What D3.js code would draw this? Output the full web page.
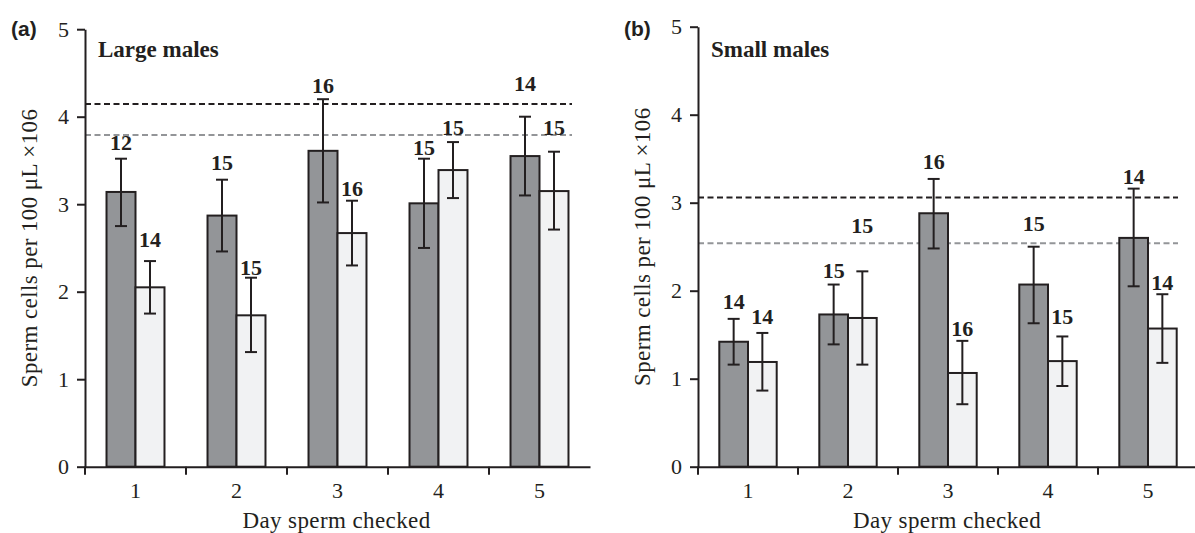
<!DOCTYPE html>
<html>
<head>
<meta charset="utf-8">
<script src="https://cdn.jsdelivr.net/npm/d3@7"></script>
<style>
  body { margin: 0; background: #fff; }
  svg { display: block; }
</style>
</head>
<body>
<svg id="chart"></svg>
<script>
const days = ["1", "2", "3", "4", "5"];

// (a) large males
const largeDark = [3.14, 2.87, 3.61, 3.01, 3.55];
const largeDarkErr = [[2.75, 3.52], [2.46, 3.28], [3.02, 4.20], [2.50, 3.52], [3.10, 4.00]];
const largeDarkN = [12, 15, 16, 15, 14];
const largeDarkNAt = [3.62, 3.39, 4.27, 3.56, 4.29];
const largeLight = [2.05, 1.73, 2.67, 3.39, 3.15];
const largeLightErr = [[1.75, 2.35], [1.31, 2.16], [2.30, 3.04], [3.07, 3.71], [2.71, 3.60]];
const largeLightN = [14, 15, 16, 15, 15];
const largeLightNAt = [2.51, 2.19, 3.09, 3.79, 3.79];
const largeRefLines = [4.145, 3.79];

// (b) small males
const smallDark = [1.42, 1.73, 2.88, 2.07, 2.60];
const smallDarkErr = [[1.16, 1.68], [1.39, 2.07], [2.48, 3.27], [1.63, 2.50], [2.05, 3.16]];
const smallDarkN = [14, 15, 16, 15, 14];
const smallDarkNAt = [1.79, 2.15, 3.38, 2.68, 3.21];
const smallLight = [1.19, 1.69, 1.065, 1.20, 1.57];
const smallLightErr = [[0.865, 1.52], [1.16, 2.22], [0.71, 1.43], [0.917, 1.48], [1.18, 1.96]];
const smallLightN = [14, 15, 16, 15, 14];
const smallLightNAt = [1.62, 2.66, 1.49, 1.62, 2.01];
const smallRefLines = [3.06, 2.54];

const yTicks = [0, 1, 2, 3, 4, 5];

const ink = "#231f20";
const darkFill = "#939598";
const lightFill = "#f1f2f3";
const refColors = ["#231f20", "#939598"];
const serif = "'Liberation Serif', 'Times New Roman', serif";

const width = 1195;
const height = 533;

const svg = d3.select("#chart")
  .attr("width", width)
  .attr("height", height)
  .attr("viewBox", [0, 0, width, height]);

function drawPanel(p) {
  const g = svg.append("g");

  const x = d3.scaleBand(days, [p.left, p.right])
    .paddingInner(0.426)
    .paddingOuter(0.213);
  const x1 = d3.scaleBand(["dark", "light"], [0, x.bandwidth()]);
  const y = d3.scaleLinear([0, 5], [p.bottom, p.top]);

  // reference lines
  p.refLines.forEach((v, i) => {
    g.append("line")
      .attr("x1", p.left)
      .attr("x2", p.refEnd)
      .attr("y1", y(v))
      .attr("y2", y(v))
      .attr("stroke", refColors[i])
      .attr("stroke-width", 2)
      .attr("stroke-dasharray", "6,3.5");
  });

  const series = [
    {key: "dark", fill: darkFill, mean: p.dark, err: p.darkErr, n: p.darkN, nAt: p.darkNAt},
    {key: "light", fill: lightFill, mean: p.light, err: p.lightErr, n: p.lightN, nAt: p.lightNAt}
  ];

  series.forEach(s => {
    const cx = i => x(days[i]) + x1(s.key) + x1.bandwidth() / 2;

    g.append("g").selectAll("rect")
      .data(s.mean)
      .join("rect")
      .attr("x", (d, i) => x(days[i]) + x1(s.key))
      .attr("y", d => y(d))
      .attr("width", x1.bandwidth())
      .attr("height", d => y(0) - y(d))
      .attr("fill", s.fill)
      .attr("stroke", ink)
      .attr("stroke-width", 2);

    const eb = g.append("g")
      .attr("stroke", ink)
      .attr("stroke-width", 2);
    s.err.forEach((e, i) => {
      const c = cx(i);
      eb.append("line").attr("x1", c).attr("x2", c).attr("y1", y(e[0])).attr("y2", y(e[1]));
      eb.append("line").attr("x1", c - 6).attr("x2", c + 6).attr("y1", y(e[0])).attr("y2", y(e[0]));
      eb.append("line").attr("x1", c - 6).attr("x2", c + 6).attr("y1", y(e[1])).attr("y2", y(e[1]));
    });

    g.append("g").selectAll("text")
      .data(s.n)
      .join("text")
      .attr("x", (d, i) => cx(i))
      .attr("y", (d, i) => y(s.nAt[i]))
      .attr("text-anchor", "middle")
      .attr("font-family", serif)
      .attr("font-weight", "bold")
      .attr("font-size", 22)
      .attr("fill", ink)
      .text(d => d);
  });

  // y axis
  const yAxis = g.append("g")
    .attr("transform", `translate(${p.left},0)`)
    .call(d3.axisLeft(y).tickValues(yTicks).tickFormat(d3.format("d"))
      .tickSize(8).tickSizeOuter(0).tickPadding(8));
  yAxis.select(".domain").attr("stroke", ink).attr("stroke-width", 2);
  yAxis.selectAll(".tick line").attr("stroke", ink).attr("stroke-width", 2);
  yAxis.selectAll(".tick text")
    .attr("font-family", serif)
    .attr("font-size", 22)
    .attr("fill", ink);

  // x axis: labels at centres, ticks at group boundaries
  const xAxis = g.append("g")
    .attr("transform", `translate(0,${p.bottom})`)
    .call(d3.axisBottom(x).tickSize(0).tickSizeOuter(0).tickPadding(16));
  xAxis.select(".domain").attr("stroke", ink).attr("stroke-width", 2);
  xAxis.selectAll(".tick text")
    .attr("font-family", serif)
    .attr("font-size", 22)
    .attr("fill", ink);
  const gap = (x.step() - x.bandwidth()) / 2;
  xAxis.append("g").selectAll("line")
    .data(days)
    .join("line")
    .attr("x1", d => x(d) - gap)
    .attr("x2", d => x(d) - gap)
    .attr("y1", 0)
    .attr("y2", 8)
    .attr("stroke", ink)
    .attr("stroke-width", 2);

  // titles
  g.append("text")
    .attr("x", p.tagX)
    .attr("y", 36)
    .attr("font-family", "'Liberation Sans', Arial, sans-serif")
    .attr("font-weight", "bold")
    .attr("font-size", 21)
    .attr("fill", ink)
    .text(p.tag);

  g.append("text")
    .attr("x", p.left + 13)
    .attr("y", 57)
    .attr("font-family", serif)
    .attr("font-weight", "bold")
    .attr("font-size", 23)
    .attr("fill", ink)
    .text(p.title);

  g.append("text")
    .attr("x", (p.left + p.right) / 2 - 1)
    .attr("y", 528)
    .attr("text-anchor", "middle")
    .attr("font-family", serif)
    .attr("font-size", 23)
    .attr("letter-spacing", 0.4)
    .attr("fill", ink)
    .text("Day sperm checked");

  g.append("text")
    .attr("transform", `translate(${p.left - 48},${(p.top + p.bottom) / 2}) rotate(-90)`)
    .attr("text-anchor", "middle")
    .attr("font-family", serif)
    .attr("font-size", 23)
    .attr("letter-spacing", 0.4)
    .attr("fill", ink)
    .text("Sperm cells per 100 \u03bcL \u00d7106");
}

drawPanel({
  tag: "(a)", tagX: 11, title: "Large males",
  left: 85, right: 590, top: 29.2, bottom: 466.7, refEnd: 572,
  dark: largeDark, darkErr: largeDarkErr, darkN: largeDarkN, darkNAt: largeDarkNAt,
  light: largeLight, lightErr: largeLightErr, lightN: largeLightN, lightNAt: largeLightNAt,
  refLines: largeRefLines
});

drawPanel({
  tag: "(b)", tagX: 624, title: "Small males",
  left: 698, right: 1198, top: 26.7, bottom: 466.7, refEnd: 1178,
  dark: smallDark, darkErr: smallDarkErr, darkN: smallDarkN, darkNAt: smallDarkNAt,
  light: smallLight, lightErr: smallLightErr, lightN: smallLightN, lightNAt: smallLightNAt,
  refLines: smallRefLines
});
</script>
</body>
</html>
